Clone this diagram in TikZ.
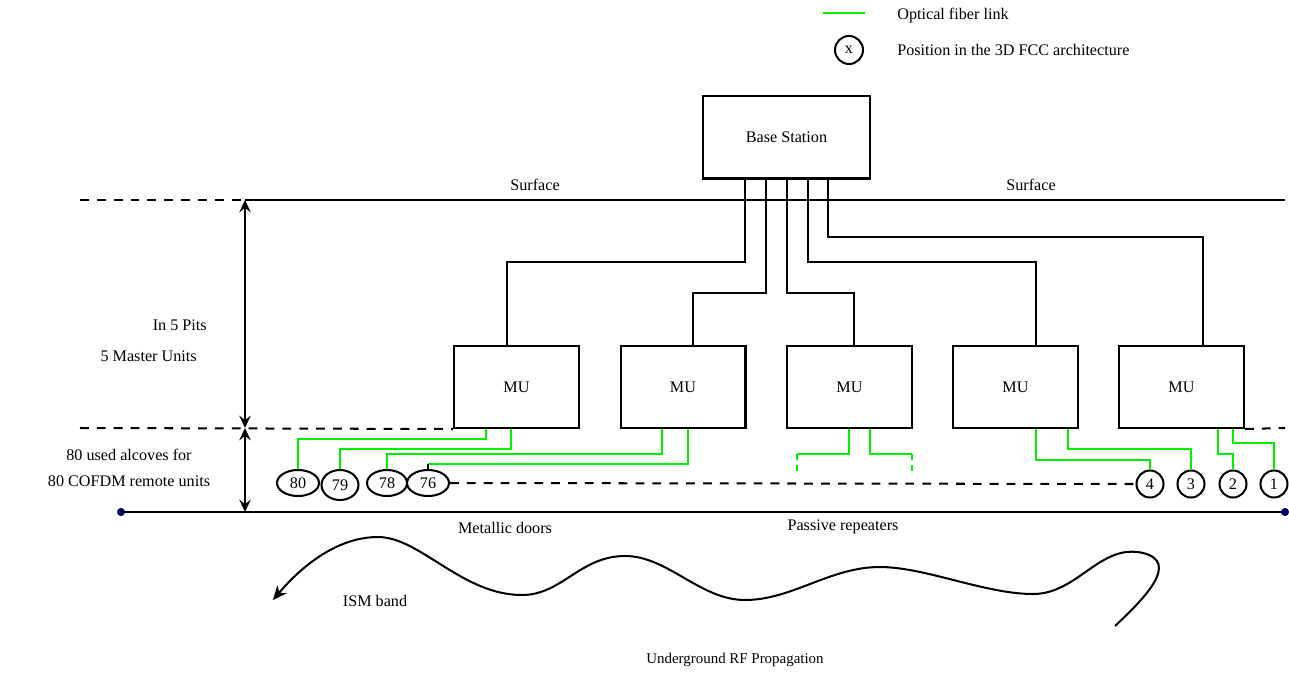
\documentclass[tikz,border=0pt]{standalone}
\usepackage{fontspec}
\setmainfont{Liberation Serif}
\usetikzlibrary{shapes.geometric,arrows.meta,calc}
\definecolor{fibergreen}{RGB}{0,240,0}
\definecolor{dotblue}{RGB}{0,0,90}
\begin{document}
\begin{tikzpicture}[x=0.02cm,y=-0.02cm,
  font=\fontsize{9.2}{11}\selectfont,
  line/.style={line width=1.15pt},
  box/.style={draw,line width=1.15pt,minimum width=2.5cm,minimum height=1.64cm,inner sep=0pt},
  fiber/.style={draw=fibergreen,line width=1.4pt},
  fiberdash/.style={draw=fibergreen,line width=1.4pt,dash pattern=on 3.2pt off 3pt},
  alc/.style={draw,ellipse,line width=1.15pt,inner sep=0pt,minimum width=0.84cm,minimum height=0.52cm},
  posn/.style={draw,circle,line width=1.15pt,inner sep=0pt,minimum size=0.54cm},
  dsh/.style={line width=1.15pt,dash pattern=on 5pt off 4.6pt},
  dblarrow/.style={line width=1.15pt,{Stealth[length=7pt,width=6.5pt,inset=2.5pt]}-{Stealth[length=7pt,width=6.5pt,inset=2.5pt]}},
  wavearrow/.style={line width=1.15pt,-{Stealth[length=8pt,width=7pt,inset=2.5pt]}}]
\useasboundingbox (0,0) rectangle (1289,673);

% legend
\coordinate (lg1) at (823,13);
\coordinate (lg2) at (865,13);
\draw[fiber] (lg1) -- (lg2);
\node[anchor=west,inner sep=0pt] (lgt1) at (897,16) {Optical fiber link};
\node[posn,minimum size=0.56cm] (lx) at (849,50) {x};
\node[anchor=west,inner sep=0pt] (lgt2) at (897,50) {Position in the 3D FCC architecture};

% base station and master units
\node[box,minimum width=3.34cm,minimum height=1.66cm] (bs) at (786.5,137) {Base Station};
\node[box] (mu1) at (516.5,387) {MU};
\node[box] (mu2) at (683,387) {MU};
\node[box] (mu3) at (849.5,387) {MU};
\node[box] (mu4) at (1015.5,387) {MU};
\node[box] (mu5) at (1181.5,387) {MU};

% links base station -> MUs
\draw[line] (bs.south -| 745,0) |- (507,262) -- (mu1.north -| 507,0);
\draw[line] (bs.south -| 766,0) |- (693,293) -- (mu2.north -| 693,0);
\draw[line] (bs.south -| 787,0) |- (854,293) -- (mu3.north -| 854,0);
\draw[line] (bs.south -| 808,0) |- (1036,262) -- (mu4.north -| 1036,0);
\draw[line] (bs.south -| 828,0) |- (1203,237) -- (mu5.north -| 1203,0);

% surface line
\coordinate (sL) at (80,200);
\coordinate (sM) at (245,200);
\coordinate (sR) at (1285,200);
\draw[dsh] (sL) -- (sM);
\draw[line] (sM) -- (sR);
\node (surf1) at (535,185) {Surface};
\node (surf2) at (1031,185) {Surface};

% MU level line
\coordinate (gL) at (80,428);
\coordinate (gM) at (245,428);
\coordinate (gR) at (1285,428);
\draw[dsh] (gL) -- (mu1.south west);
\draw[dsh] (mu5.south east) -- (gR);

% tunnel line
\coordinate (bL) at (121,512);
\coordinate (bM) at (245,512);
\coordinate (bR) at (1285,512);
\draw[line] (bL) -- (bR);
\fill[dotblue] (bL) circle (2.3pt);
\fill[dotblue] (bR) circle (2.3pt);

% dimension arrows
\draw[dblarrow] (sM) -- (gM);
\draw[dblarrow] (gM) -- (bM);

% left labels
\node[anchor=east,inner sep=0pt] (pits) at (207,325) {In 5 Pits};
\node[anchor=east,inner sep=0pt] (mus) at (197,356) {5 Master Units};
\node[inner sep=0pt] (alc1) at (129,455) {80 used alcoves for};
\node[inner sep=0pt] (alc2) at (129,481) {80 COFDM remote units};

% remote units
\node[alc] (e80) at (298,483) {80};
\node[alc,minimum width=0.74cm,minimum height=0.6cm] (e79) at (340,485) {79};
\node[alc,minimum width=0.8cm] (e78) at (387,483) {78};
\node[alc] (e76) at (428,483) {76};
\node[posn] (c4) at (1150,484) {4};
\node[posn] (c3) at (1191,484) {3};
\node[posn] (c2) at (1233,484) {2};
\node[posn] (c1) at (1274,484) {1};
\draw[dsh] (e76.east) -- (c4.west);

% fiber links
\draw[fiber] (mu1.south -| 486,0) -- (486,439) -| (e80.north);
\draw[fiber] (mu1.south -| 511,0) -- (511,449) -| (e79.north);
\draw[fiber] (mu2.south -| 662,0) -- (662,454) -| (e78.north);
\coordinate (k76) at (428,464);
\draw[fiber] (mu2.south -| 688,0) -- (688,464) -- (k76);
\draw[line] (k76) -- (e76.north);
\coordinate (d3a) at (797,454);
\coordinate (d3b) at (912,454);
\coordinate (d3c) at (797,475);
\coordinate (d3d) at (912,475);
\draw[fiber] (mu3.south -| 849,0) |- (d3a);
\draw[fiber] (mu3.south -| 870,0) |- (d3b);
\draw[fiberdash] (d3a) -- (d3c);
\draw[fiberdash] (d3b) -- (d3d);
\draw[fiber] (mu4.south -| 1036,0) -- (1036,460) -| (c4.north);
\draw[fiber] (mu4.south -| 1068,0) -- (1068,449) -| (c3.north);
\draw[fiber] (mu5.south -| 1218,0) -- (1218,454) -| (c2.north);
\draw[fiber] (mu5.south -| 1233,0) -- (1233,443) -| (c1.north);

% bottom labels
\node (doors) at (505,528) {Metallic doors};
\node (rep) at (843,527) {Passive repeaters};
\node (ism) at (375,601) {ISM band};
\node[font=\fontsize{8.5}{10}\selectfont] (under) at (735,660) {Underground RF Propagation};

% RF wave
\coordinate (w0) at (1115,626);
\coordinate (wtip) at (273,600);
\draw[wavearrow] (w0) .. controls (1145,598) and (1180,562) .. (1143,553)
  .. controls (1100,543) and (1078,594) .. (1033,594)
  .. controls (985,594) and (925,567) .. (880,567)
  .. controls (830,567) and (792,600) .. (745,600)
  .. controls (700,600) and (668,556) .. (625,556)
  .. controls (580,556) and (562,595) .. (522,595)
  .. controls (462,595) and (420,537) .. (378,537)
  .. controls (336,537) and (300,568) .. (wtip);
\end{tikzpicture}
\end{document}
